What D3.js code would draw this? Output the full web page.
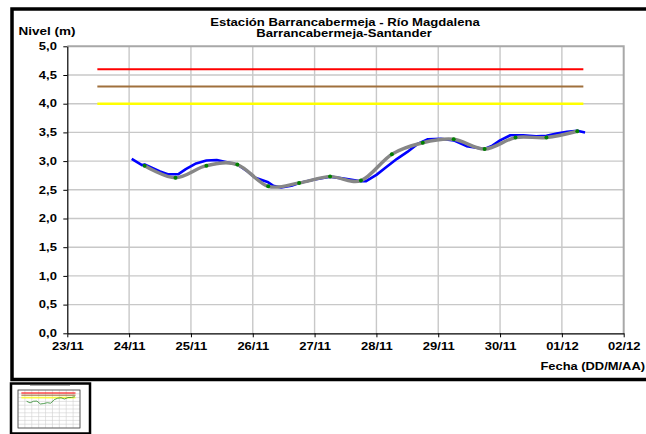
<!DOCTYPE html>
<html>
<head>
<meta charset="utf-8">
<script src="https://cdnjs.cloudflare.com/ajax/libs/d3/7.8.5/d3.min.js"></script>
<style>
body { margin: 0; background: #fff; }
svg { display: block; font-family: "Liberation Sans", Arial, sans-serif; }
</style>
</head>
<body>
<svg id="chart" width="646" height="434"></svg>
<script>

/////// Data ///////

// observed level (blue)
var obsTime = ["2011-11-24 01:00","2011-11-24 05:00","2011-11-24 06:00","2011-11-24 12:00","2011-11-24 15:00",
    "2011-11-24 19:00","2011-11-24 22:00","2011-11-25 02:00","2011-11-25 06:00","2011-11-25 10:00",
    "2011-11-25 14:00","2011-11-25 18:00","2011-11-25 22:00","2011-11-26 01:00","2011-11-26 06:00",
    "2011-11-26 08:00","2011-11-26 11:00","2011-11-26 15:00","2011-11-26 18:00","2011-11-27 00:00",
    "2011-11-27 06:00","2011-11-27 12:00","2011-11-27 18:00","2011-11-27 20:00","2011-11-28 00:00",
    "2011-11-28 04:00","2011-11-28 08:00","2011-11-28 12:00","2011-11-28 16:00","2011-11-28 20:00",
    "2011-11-29 01:00","2011-11-29 06:00","2011-11-29 11:00","2011-11-29 18:00","2011-11-29 21:00",
    "2011-11-30 00:00","2011-11-30 04:00","2011-11-30 09:00","2011-11-30 14:00","2011-11-30 18:00",
    "2011-11-30 22:00","2011-12-01 02:00","2011-12-01 06:00","2011-12-01 09:00"];
var obsLevel = [3.04, 2.93, 2.94, 2.82, 2.77,
    2.77, 2.86, 2.96, 3.01, 3.02,
    2.98, 2.94, 2.82, 2.71, 2.63,
    2.57, 2.54, 2.57, 2.62, 2.68,
    2.73, 2.69, 2.65, 2.65, 2.76,
    2.90, 3.04, 3.16, 3.30, 3.38,
    3.39, 3.36, 3.26, 3.21, 3.27,
    3.36, 3.45, 3.45, 3.43, 3.44,
    3.48, 3.51, 3.53, 3.50];

// forecast level (grey line, green markers)
var fcTime = ["2011-11-24 06:00","2011-11-24 18:00","2011-11-25 06:00","2011-11-25 18:00","2011-11-26 06:00",
    "2011-11-26 18:00","2011-11-27 06:00","2011-11-27 18:00","2011-11-28 06:00","2011-11-28 18:00",
    "2011-11-29 06:00","2011-11-29 18:00","2011-11-30 06:00","2011-11-30 18:00","2011-12-01 06:00"];
var fcLevel = [2.92, 2.71, 2.92, 2.94, 2.56,
    2.62, 2.73, 2.66, 3.12, 3.32,
    3.38, 3.21, 3.41, 3.41, 3.52];

// alert thresholds
var alertLevel = [4.6, 4.3, 4.0];
var alertFrom = "2011-11-23 11:40", alertTo = "2011-12-01 08:20";

var xTicks = ["2011-11-23","2011-11-24","2011-11-25","2011-11-26","2011-11-27",
    "2011-11-28","2011-11-29","2011-11-30","2011-12-01","2011-12-02"];
var yTicks = [0, 0.5, 1, 1.5, 2, 2.5, 3, 3.5, 4, 4.5, 5];

var titleLines = ["Estación Barrancabermeja - Río Magdalena", "Barrancabermeja-Santander"];

var alertColors = ["#ff0000", "#a0703c", "#ffff00"];
var alertWidths = [2, 2, 2.5];


/////// Scales ///////

var parseTime = d3.timeParse("%Y-%m-%d %H:%M"),
    parseDay = d3.timeParse("%Y-%m-%d");

var svg = d3.select("#chart");

var x = d3.scaleTime()
    .domain([parseDay(xTicks[0]), parseDay(xTicks[xTicks.length - 1])])
    .range([67.3, 623.7]);
var y = d3.scaleLinear().domain([0, 5]).range([333.3, 46.3]);

var commaFmt = function(d) { return d3.format(".1f")(d).replace(".", ","); };


/////// Frame ///////

svg.append("rect")
    .attr("x", 12).attr("y", 9)
    .attr("width", 650).attr("height", 370.5)
    .attr("fill", "#fff")
    .attr("stroke", "#000")
    .attr("stroke-width", 3.5);


/////// Grid ///////

var grid = svg.append("g");

grid.selectAll(".vgrid")
    .data(xTicks.slice(1, -1))
    .enter().append("line")
    .attr("x1", function(d) { return x(parseDay(d)); })
    .attr("x2", function(d) { return x(parseDay(d)); })
    .attr("y1", y(0)).attr("y2", y(5))
    .attr("stroke", "#c8c8c8").attr("stroke-width", 1.4);

grid.selectAll(".hgrid")
    .data(yTicks.slice(1, -1))
    .enter().append("line")
    .attr("x1", x.range()[0]).attr("x2", x.range()[1])
    .attr("y1", function(d) { return y(d); })
    .attr("y2", function(d) { return y(d); })
    .attr("stroke", "#c8c8c8").attr("stroke-width", 1.4);

// top and right edge of plot area
grid.append("path")
    .attr("d", "M" + x.range()[0] + "," + y(5) + "H" + x.range()[1] + "V" + y(0))
    .attr("fill", "none")
    .attr("stroke", "#a8a8a8").attr("stroke-width", 2);


/////// Threshold lines ///////

svg.selectAll(".alert")
    .data(alertLevel)
    .enter().append("line")
    .attr("x1", x(parseTime(alertFrom)))
    .attr("x2", x(parseTime(alertTo)))
    .attr("y1", function(d) { return y(d); })
    .attr("y2", function(d) { return y(d); })
    .attr("stroke", function(d, i) { return alertColors[i]; })
    .attr("stroke-width", function(d, i) { return alertWidths[i]; });


/////// Series ///////

var obs = obsTime.map(function(t, i) { return [parseTime(t), obsLevel[i]]; });
var fc = fcTime.map(function(t, i) { return [parseTime(t), fcLevel[i]]; });

var obsLine = d3.line()
    .x(function(d) { return x(d[0]); })
    .y(function(d) { return y(d[1]); });

var fcLine = d3.line()
    .curve(d3.curveCatmullRom.alpha(0))
    .x(function(d) { return x(d[0]); })
    .y(function(d) { return y(d[1]); });

svg.append("path")
    .datum(obs)
    .attr("d", obsLine)
    .attr("fill", "none")
    .attr("stroke", "#0000ff")
    .attr("stroke-width", 2.6)
    .attr("stroke-linejoin", "round");

svg.append("path")
    .datum(fc)
    .attr("d", fcLine)
    .attr("fill", "none")
    .attr("stroke", "#878787")
    .attr("stroke-width", 3.4)
    .attr("stroke-linecap", "round");

svg.selectAll(".dot")
    .data(fc)
    .enter().append("circle")
    .attr("cx", function(d) { return x(d[0]); })
    .attr("cy", function(d) { return y(d[1]); })
    .attr("r", 2)
    .attr("fill", "#008000");


/////// Axes ///////

var yAxis = svg.append("g")
    .attr("transform", "translate(" + x.range()[0] + ",0)")
    .call(d3.axisLeft(y).tickValues(yTicks).tickSize(4).tickSizeOuter(0).tickFormat(commaFmt));

yAxis.select(".domain").attr("stroke", "#000").attr("stroke-width", 1.2);
yAxis.selectAll(".tick line").attr("stroke", "#000");
yAxis.selectAll(".tick text")
    .attr("x", -8)
    .attr("transform", "scale(1.3,1)")
    .attr("font-size", "10px")
    .attr("font-weight", "bold")
    .attr("fill", "#000");

var xAxis = svg.append("g")
    .attr("transform", "translate(0," + y(0) + ")")
    .call(d3.axisBottom(x).tickValues(xTicks.map(parseDay)).tickSize(4).tickSizeOuter(0)
        .tickFormat(d3.timeFormat("%d/%m")));

xAxis.select(".domain").attr("stroke", "#000").attr("stroke-width", 1.2);
xAxis.selectAll(".tick line").attr("stroke", "#000");
xAxis.selectAll(".tick text").each(function() {
    var t = d3.select(this);
    var tx = d3.select(this.parentNode).attr("transform");
    t.attr("y", 10)
        .attr("transform", "scale(1.3,1)")
        .attr("font-size", "10px")
        .attr("font-weight", "bold")
        .attr("fill", "#000");
});


/////// Titles ///////

function stretchedText(txt, px, py, size, sx, anchor) {
    return svg.append("text")
        .attr("transform", "translate(" + px + "," + py + ") scale(" + sx + ",1)")
        .attr("text-anchor", anchor)
        .attr("font-size", size + "px")
        .attr("font-weight", "bold")
        .attr("fill", "#000")
        .text(txt);
}

stretchedText(titleLines[0], 345, 25.5, 10.5, 1.25, "middle");
stretchedText(titleLines[1], 344, 36.5, 10.5, 1.25, "middle");
stretchedText("Nivel (m)", 18.5, 34.5, 10, 1.35, "start");
stretchedText("Fecha (DD/M/AA)", 645, 370, 10, 1.29, "end");


/////// Thumbnail ///////

var thumb = svg.append("g");

thumb.append("rect")
    .attr("x", 11).attr("y", 383.5)
    .attr("width", 79).attr("height", 50)
    .attr("fill", "#fff")
    .attr("stroke", "#000").attr("stroke-width", 2.5);

var tx = d3.scaleTime().domain(x.domain()).range([18, 80]);
var ty = d3.scaleLinear().domain([0, 5]).range([428, 390]);

thumb.selectAll(".tgrid")
    .data(yTicks)
    .enter().append("line")
    .attr("x1", tx.range()[0]).attr("x2", tx.range()[1])
    .attr("y1", function(d) { return ty(d); })
    .attr("y2", function(d) { return ty(d); })
    .attr("stroke", "#d0d0d0").attr("stroke-width", 0.6);

thumb.selectAll(".tvgrid")
    .data(xTicks)
    .enter().append("line")
    .attr("x1", function(d) { return tx(parseDay(d)); })
    .attr("x2", function(d) { return tx(parseDay(d)); })
    .attr("y1", ty(0)).attr("y2", ty(5))
    .attr("stroke", "#d0d0d0").attr("stroke-width", 0.6);

thumb.append("rect")
    .attr("x", tx.range()[0]).attr("y", ty(5))
    .attr("width", tx.range()[1] - tx.range()[0]).attr("height", ty(0) - ty(5))
    .attr("fill", "none").attr("stroke", "#444").attr("stroke-width", 0.8);

thumb.selectAll(".talert")
    .data(alertLevel)
    .enter().append("line")
    .attr("x1", tx(parseTime(alertFrom)))
    .attr("x2", tx(parseTime(alertTo)))
    .attr("y1", function(d) { return ty(d); })
    .attr("y2", function(d) { return ty(d); })
    .attr("stroke", function(d, i) { return alertColors[i]; })
    .attr("stroke-opacity", 0.7)
    .attr("stroke-width", 1.6);

thumb.append("path")
    .datum(fc)
    .attr("d", d3.line()
        .x(function(d) { return tx(d[0]); })
        .y(function(d) { return ty(d[1] + 0.6); }))
    .attr("fill", "none")
    .attr("stroke", "#2e8b2e").attr("stroke-width", 0.8);

thumb.append("line")
    .attr("x1", 30).attr("x2", 70)
    .attr("y1", 385.5).attr("y2", 385.5)
    .attr("stroke", "#999").attr("stroke-width", 0.8);

</script>
</body>
</html>
